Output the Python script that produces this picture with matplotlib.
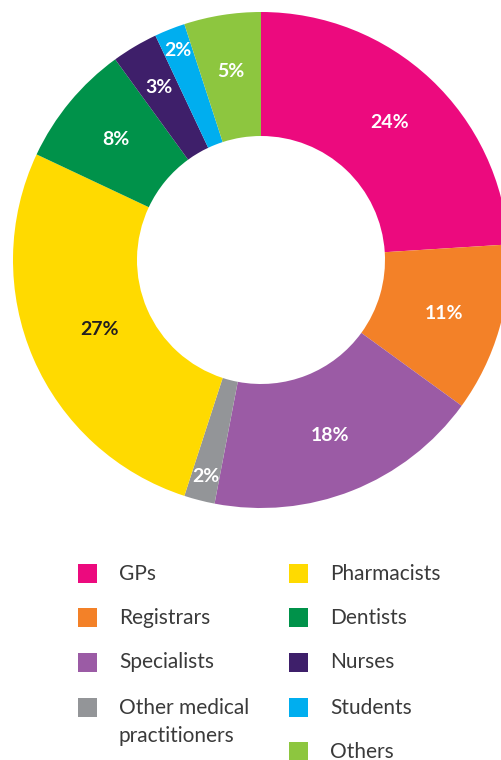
import matplotlib.pyplot as plt
from matplotlib.patches import Rectangle
import numpy as np

labels = ["GPs", "Registrars", "Specialists", "Other medical\npractitioners",
          "Pharmacists", "Dentists", "Nurses", "Students", "Others"]
values = [24, 11, 18, 2, 27, 8, 3, 2, 5]
colors = ["#EC0A7E", "#F38128", "#9B5BA5", "#939598", "#FFDA00",
          "#00924A", "#3E1F6A", "#00AEEF", "#8DC63F"]
# where each percent label sits, as a fraction of the outer radius
label_r = [0.76, 0.77, 0.76, 0.90, 0.71, 0.76, 0.81, 0.91, 0.77]
label_dark = [False, False, False, False, True, False, False, False, False]

W, H = 502, 760
fig = plt.figure(figsize=(W / 100, H / 100), dpi=100)

cx, cy, R = 261, 260, 248
ax = fig.add_axes([(cx - R) / W, (H - cy - R) / H, 2 * R / W, 2 * R / H])
wedges, _ = ax.pie(values, colors=colors, startangle=90, counterclock=False,
                   radius=1, wedgeprops=dict(width=0.5, linewidth=0))
ax.set_xlim(-1, 1)
ax.set_ylim(-1, 1)
ax.set_aspect("equal")
ax.axis("off")
for w in wedges:
    w.set_clip_on(False)

for w, v, r, dark in zip(wedges, values, label_r, label_dark):
    mid = np.deg2rad((w.theta1 + w.theta2) / 2)
    ax.text(r * np.cos(mid), r * np.sin(mid), f"{v}%", ha="center", va="center",
            fontsize=14, fontweight="bold", family="Lato",
            color="#231F20" if dark else "white")

# legend, drawn by hand: 4 entries left column, 5 entries right column
rows_y = [573.5, 617.5, 662.5, 707.5, 751.5]
cols = [(78, 119), (289, 330)]
for i, (lab, col) in enumerate(zip(labels, colors)):
    c = 0 if i < 4 else 1
    row = i if i < 4 else i - 4
    sx, tx = cols[c]
    y = rows_y[row]
    fig.patches.append(Rectangle((sx / W, (H - y - 9.5) / H), 19 / W, 19 / H,
                                 transform=fig.transFigure, facecolor=col,
                                 edgecolor="none"))
    if "\n" in lab:
        fig.text(tx / W, (H - y + 10) / H, lab, ha="left", va="top",
                 fontsize=15, family="Lato", color="#3A3A3A", linespacing=1.55)
    else:
        fig.text(tx / W, (H - y) / H, lab, ha="left", va="center",
                 fontsize=15, family="Lato", color="#3A3A3A")

fig.savefig("out.png", dpi=100)
